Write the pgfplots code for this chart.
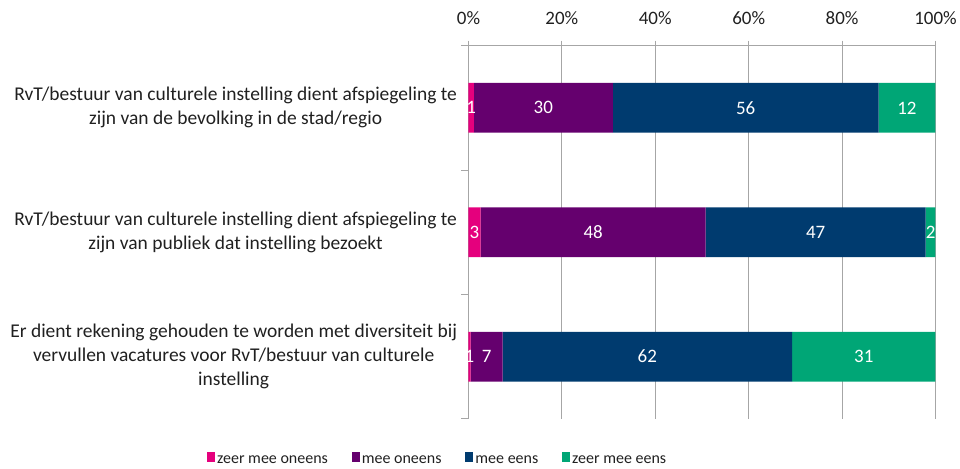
\documentclass[border=0pt]{standalone}
\usepackage{pgfplots}
\pgfplotsset{compat=1.18}
\usepackage{pgfplotstable}
\usepackage{fontspec}
\setmainfont{Carlito}
\definecolor{cpink}{HTML}{E5007D}
\definecolor{cpurple}{HTML}{65006E}
\definecolor{cblue}{HTML}{003B6F}
\definecolor{cgreen}{HTML}{00A676}
\definecolor{cgrid}{HTML}{A6A6A6}
\definecolor{ctext}{HTML}{202020}

\pgfplotstableread{
y x lab
0 1.15 1
1 2.6 3
2 0.45 1
}\zmo
\pgfplotstableread{
y x lab
0 29.75 30
1 48.2 48
2 6.85 7
}\mo
\pgfplotstableread{
y x lab
0 56.9 56
1 47.1 47
2 62.0 62
}\me
\pgfplotstableread{
y x lab
0 12.2 12
1 2.1 2
2 30.7 31
}\zme

\begin{document}
\begin{tikzpicture}
\path (0,0) rectangle (960bp,468bp);
\begin{axis}[
  at={(469bp,48.7bp)}, anchor=south west,
  scale only axis, width=467.5bp, height=373.6bp,
  xbar stacked, bar width=0.4,
  xmin=0, xmax=100, ymin=-0.5, ymax=2.5,
  y dir=reverse,
  axis x line*=top, axis y line*=left,
  axis line style={cgrid, line width=1bp},
  xtick={0,20,...,100},
  xticklabel={\pgfmathprintnumber{\tick}\%},
  xmajorgrids, grid style={cgrid, line width=1bp},
  x tick style={cgrid, line width=1bp},
  tick align=outside, major tick length=5bp,
  ytick={0,1,2},
  y tick style={draw=none},
  yticklabels={
    {RvT/bestuur van culturele instelling dient afspiegeling te\\zijn van de bevolking in de stad/regio},
    {RvT/bestuur van culturele instelling dient afspiegeling te\\zijn van publiek dat instelling bezoekt},
    {Er dient rekening gehouden te worden met diversiteit bij\\vervullen vacatures voor RvT/bestuur van culturele\\instelling}},
  yticklabel style={align=center, font=\fontsize{19.5bp}{24bp}\selectfont, text=ctext, xshift=-3bp},
  xticklabel style={font=\fontsize{19bp}{22bp}\selectfont, text=ctext, yshift=12bp},
  /pgf/number format/assume math mode=true,
  extra y ticks={-0.5,0.5,1.5,2.5},
  extra y tick labels={},
  extra y tick style={y tick style={draw=cgrid, line width=1bp}, major tick length=7bp, tick align=outside},
  point meta=explicit symbolic,
  nodes near coords,
  every node near coord/.append style={anchor=center, text=white, font=\fontsize{19bp}{22bp}\selectfont},
  legend columns=4,
  legend style={at={(axis description cs:-0.066,-0.109)}, anchor=center, draw=none, fill=none,
     font=\fontsize{16bp}{19bp}\selectfont, text=ctext,
     /tikz/every even column/.append style={column sep=22bp}},
  legend image code/.code={\fill[#1] (0bp,-2bp) rectangle (8bp,8bp);},
]
\addplot[fill=cpink, draw=none] table[x=x, y=y, meta=lab] {\zmo};
\addplot[fill=cpurple, draw=none] table[x=x, y=y, meta=lab] {\mo};
\addplot[fill=cblue, draw=none] table[x=x, y=y, meta=lab] {\me};
\addplot[fill=cgreen, draw=none] table[x=x, y=y, meta=lab] {\zme};
\legend{zeer mee oneens, mee oneens, mee eens, zeer mee eens}
\end{axis}
\end{tikzpicture}
\end{document}
